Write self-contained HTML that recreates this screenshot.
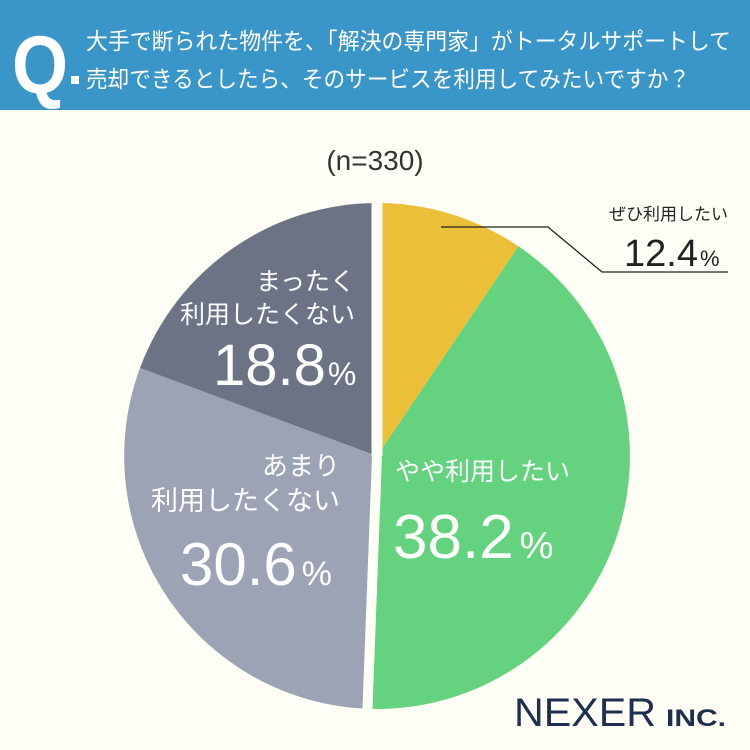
<!DOCTYPE html>
<html><head><meta charset="utf-8"><style>
html,body{margin:0;padding:0;background:#fefef6;}
svg{display:block;}
text{font-family:"Liberation Sans","Noto Sans CJK JP",sans-serif;}
</style></head><body>
<svg width="750" height="750" viewBox="0 0 750 750">
<rect width="750" height="750" fill="#fefef6"/>
<rect width="750" height="110" fill="#3a96c8"/>
<text x="12" y="93" font-size="82" fill="#fff" font-weight="bold" textLength="56" lengthAdjust="spacingAndGlyphs">Q</text>
<rect x="71" y="76" width="8" height="8" fill="#fff"/>
<text x="86" y="49" font-size="23" fill="#fff" textLength="645" lengthAdjust="spacingAndGlyphs">大手で断られた物件を、「解決の専門家」がトータルサポートして</text>
<text x="86" y="87" font-size="23" fill="#fff" textLength="604" lengthAdjust="spacingAndGlyphs">売却できるとしたら、そのサービスを利用してみたいですか？</text>
<text x="375" y="170" font-size="28" fill="#333" text-anchor="middle">(n=330)</text>
<g transform="translate(377,456)">
<path d="M0,0 L0,-253 A253,253 0 0 1 141.5,-209.7 Z" fill="#ebbf38"/>
<path d="M0,0 L141.5,-209.7 A253,253 0 0 1 -9.5,252.8 Z" fill="#64d27e"/>
<path d="M0,0 L-9.5,252.8 A253,253 0 0 1 -237,-88 Z" fill="#9ca3b4"/>
<path d="M0,0 L-237,-88 A253,253 0 0 1 0,-253 Z" fill="#6b7384"/>
<line x1="0" y1="0" x2="0" y2="-260" stroke="#fefef6" stroke-width="11"/>
<line x1="0" y1="0" x2="-9.8" y2="260" stroke="#fefef6" stroke-width="10"/>
</g>
<polyline points="441,227 548,227 602,272 728,272" fill="none" stroke="#222" stroke-width="1.3"/>
<text x="728" y="220" font-size="17" fill="#222" text-anchor="end">ぜひ利用したい</text>
<text x="624" y="266" font-size="38" fill="#222">12.4<tspan font-size="22" dx="2">%</tspan></text>
<text x="395" y="480" font-size="25" fill="#fff" textLength="175" lengthAdjust="spacingAndGlyphs">やや利用したい</text>
<text x="393" y="558" font-size="62" fill="#fff">38.2<tspan font-size="38" dx="6">%</tspan></text>
<text x="355" y="290" font-size="25" fill="#fff" text-anchor="end">まったく</text>
<text x="355" y="323" font-size="25" fill="#fff" text-anchor="end">利用したくない</text>
<text x="213" y="385" font-size="58" fill="#fff">18.8<tspan font-size="32" dx="2">%</tspan></text>
<text x="340" y="475" font-size="26" fill="#fff" text-anchor="end">あまり</text>
<text x="340" y="510" font-size="27" fill="#fff" text-anchor="end">利用したくない</text>
<text x="180" y="585" font-size="60" fill="#fff">30.6<tspan font-size="34" dx="5">%</tspan></text>
<text x="514" y="726" font-size="40" fill="#1f2f4f" textLength="142" lengthAdjust="spacingAndGlyphs">NEXER</text>
<text x="666" y="726" font-size="24" fill="#1f2f4f" font-weight="bold" textLength="60" lengthAdjust="spacingAndGlyphs">INC.</text>
</svg>
</body></html>
